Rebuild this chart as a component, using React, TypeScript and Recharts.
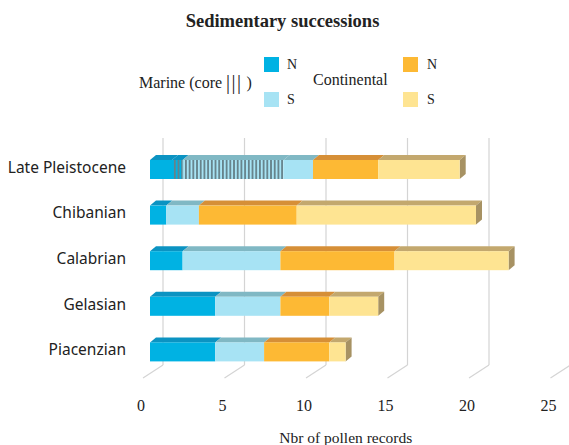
import React from 'react';
import { BarChart, Bar, XAxis, YAxis, CartesianGrid } from 'recharts';

const categories = ['Late Pleistocene', 'Chibanian', 'Calabrian', 'Gelasian', 'Piacenzian'];
const marineN = [2, 1, 2, 4, 4];
const marineS = [8, 2, 6, 4, 3];
const continentalN = [4, 6, 7, 3, 4];
const continentalS = [5, 11, 7, 3, 1];
// part of each marine segment that comes from cores (hatched)
const coreN = [0.65, 0, 0, 0, 0];
const coreS = [6.2, 0, 0, 0, 0];
const xTicks = [0, 5, 10, 15, 20, 25];

const data = categories.map((name, i) => ({
  name,
  nPlain: marineN[i] - coreN[i],
  nCore: coreN[i],
  sCore: coreS[i],
  sPlain: marineS[i] - coreS[i],
  cn: continentalN[i],
  cs: continentalS[i],
}));

const COL = {
  n: { front: '#00b2e3', top: '#0b93c2' },
  s: { front: '#a7e3f4', top: '#80b8c4' },
  cn: { front: '#fdb934', top: '#d68f37' },
  cs: { front: '#fee492', top: '#c3a86e', side: '#a79263' },
};

const DX = 6;
const DY = 5;
const serif = '"Liberation Serif", "Times New Roman", serif';
const sans = '"Noto Sans", "Open Sans", sans-serif';

function Box3D(props: any, col: { front: string; top: string; side?: string }, hatch: boolean) {
  const { x, y, width, height } = props;
  if (!width || width <= 0) return <g />;
  return (
    <g>
      <polygon
        points={`${x},${y} ${x + DX},${y - DY} ${x + width + DX},${y - DY} ${x + width},${y}`}
        fill={col.top}
      />
      {col.side && (
        <polygon
          points={`${x + width},${y} ${x + width + DX},${y - DY} ${x + width + DX},${y + height - DY} ${x + width},${y + height}`}
          fill={col.side}
        />
      )}
      <rect x={x} y={y} width={width} height={height} fill={col.front} />
      {hatch && <rect x={x} y={y} width={width} height={height} fill="url(#coreHatch)" />}
    </g>
  );
}

function GridLine(props: any) {
  const { x1, y1, y2 } = props;
  const back = x1 + 13;
  const front = x1 - 7;
  return (
    <g>
      <line x1={back} y1={y1 - 9} x2={back} y2={y2 - 10} stroke="#d4d4d4" strokeWidth={1.2} />
      <line x1={back} y1={y2 - 10} x2={front} y2={y2 + 3} stroke="#d4d4d4" strokeWidth={1.2} />
    </g>
  );
}

function XTick(props: any) {
  const { x, y, payload } = props;
  return (
    <text x={x - 9} y={y + 28} textAnchor="middle" fontFamily={serif} fontSize={16} fill="#222">
      {payload.value}
    </text>
  );
}

function YTick(props: any) {
  const { x, y, payload } = props;
  return (
    <text x={x - 16} y={y + 3} textAnchor="end" fontFamily={sans} fontSize={15.5} fill="#222">
      {payload.value}
    </text>
  );
}

const sq = (left: number, top: number, color: string) => (
  <div style={{ position: 'absolute', left, top, width: 15, height: 15, background: color }} />
);
const txt = (left: number, top: number, s: React.ReactNode, size = 15) => (
  <div style={{ position: 'absolute', left, top, fontFamily: serif, fontSize: size, color: '#222', whiteSpace: 'nowrap', lineHeight: 1 }}>
    {s}
  </div>
);

export default function App() {
  return (
    <div style={{ position: 'absolute', left: 0, top: 0, width: 569, height: 445, background: '#fff' }}>
      <div
        style={{
          position: 'absolute', left: 0, width: 569, top: 12, textAlign: 'center',
          fontFamily: serif, fontWeight: 'bold', fontSize: 18.5, color: '#222', lineHeight: 1,
        }}
      >
        <span style={{ marginLeft: -4 }}>Sedimentary successions</span>
      </div>
      {txt(139, 72, <>Marine (core <span style={{ fontSize: 20, letterSpacing: 1.5, verticalAlign: -1 }}>|||</span> )</>, 16)}
      {sq(264, 57, COL.n.front)}
      {txt(287, 58, 'N', 14)}
      {sq(264, 92, COL.s.front)}
      {txt(287, 93, 'S', 14)}
      {txt(313, 72, 'Continental', 16)}
      {sq(403, 57, COL.cn.front)}
      {txt(427, 58, 'N', 14)}
      {sq(403, 92, COL.cs.front)}
      {txt(427, 93, 'S', 14)}
      <div style={{ position: 'absolute', left: 0, top: 0 }}>
        <BarChart
          width={569}
          height={445}
          data={data}
          layout="vertical"
          margin={{ top: 147, right: 11.5, bottom: 0, left: 0 }}
          barSize={19}
        >
          <defs>
            <pattern id="coreHatch" patternUnits="userSpaceOnUse" width={3.7} height={10}>
              <rect x={0} y={0} width={1.8} height={10} fill="#66828a" />
            </pattern>
          </defs>
          <CartesianGrid horizontal={false} vertical={GridLine} />
          <XAxis
            type="number"
            domain={[0, 25]}
            ticks={xTicks}
            axisLine={false}
            tickLine={false}
            height={70}
            tick={XTick}
            label={{ value: 'Nbr of pollen records', position: 'insideBottom', offset: 2, fontFamily: serif, fontSize: 15.5, fill: '#222', dx: -8 }}
          />
          <YAxis type="category" dataKey="name" width={150} axisLine={false} tickLine={false} tick={YTick} />
          <Bar dataKey="nPlain" stackId="a" isAnimationActive={false} shape={(p: any) => Box3D(p, COL.n, false)} />
          <Bar dataKey="nCore" stackId="a" isAnimationActive={false} shape={(p: any) => Box3D(p, COL.n, true)} />
          <Bar dataKey="sCore" stackId="a" isAnimationActive={false} shape={(p: any) => Box3D(p, COL.s, true)} />
          <Bar dataKey="sPlain" stackId="a" isAnimationActive={false} shape={(p: any) => Box3D(p, COL.s, false)} />
          <Bar dataKey="cn" stackId="a" isAnimationActive={false} shape={(p: any) => Box3D(p, COL.cn, false)} />
          <Bar dataKey="cs" stackId="a" isAnimationActive={false} shape={(p: any) => Box3D(p, COL.cs, false)} />
        </BarChart>
      </div>
    </div>
  );
}
